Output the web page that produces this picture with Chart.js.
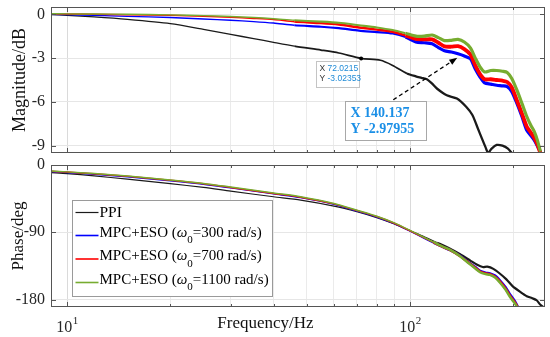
<!DOCTYPE html>
<html>
<head>
<meta charset="utf-8">
<script src="https://cdn.jsdelivr.net/npm/chart.js@4.4.1/dist/chart.umd.min.js"></script>
<style>
  html, body { margin: 0; padding: 0; background: #fff; }
  #wrap { position: relative; width: 550px; height: 337px; overflow: hidden; }
  #magCanvas { position: absolute; left: 0; top: 0; }
  #phaseCanvas { position: absolute; left: 0; top: 158px; }
</style>
</head>
<body>
<div id="wrap">
  <canvas id="magCanvas" width="550" height="160"></canvas>
  <canvas id="phaseCanvas" width="550" height="179"></canvas>
</div>
<script>
// x axis (Hz, log)
const xMin = 8.98, xMax = 247.5;
const xGridTicks = [10, 20, 30, 40, 50, 60, 70, 80, 90, 100, 200];
const xLabelTicks = [10, 100];
const magTicks = [-9, -6, -3, 0];
const phaseTicks = [-180, -90, 0];

// magnitude (dB), MPC+ESO curves share one frequency list
const magFreq = [9, 10, 12, 15, 20, 25, 30, 35, 40, 46, 55, 62, 71, 80, 89, 97, 104, 110, 116, 121,
  126, 132, 138, 144, 150, 155, 160, 165, 172, 179, 186, 192, 198, 205, 212, 219, 225, 230, 235, 240];
const magW300 = [0.0, -0.02, -0.07, -0.14, -0.22, -0.32, -0.41, -0.5, -0.6, -0.75, -0.85, -0.95, -1.12, -1.22, -1.32, -1.55, -1.9, -1.95, -2.02, -2.28,
  -2.5, -2.58, -2.7, -2.85, -3.05, -3.75, -4.3, -4.7, -4.78, -4.86, -4.9, -4.95, -5.3, -6.1, -7.0, -7.95, -8.3, -8.6, -9.0, -9.45];
const magW700 = [0.03, 0.02, 0.0, -0.03, -0.07, -0.13, -0.2, -0.28, -0.36, -0.5, -0.6, -0.7, -0.9, -1.05, -1.2, -1.45, -1.68, -1.72, -1.72, -1.95,
  -2.2, -2.22, -2.18, -2.38, -2.75, -3.5, -4.1, -4.45, -4.45, -4.5, -4.55, -4.64, -5.0, -5.9, -6.8, -7.7, -8.1, -8.45, -8.9, -9.5];
const magW1100 = [0.04, 0.03, 0.02, 0.0, -0.04, -0.09, -0.15, -0.22, -0.3, -0.41, -0.5, -0.58, -0.75, -0.9, -1.08, -1.3, -1.5, -1.5, -1.42, -1.6,
  -1.8, -1.78, -1.72, -1.9, -2.3, -3.0, -3.6, -3.95, -3.85, -3.85, -3.9, -3.98, -4.4, -5.2, -6.1, -7.0, -7.6, -8.0, -8.6, -9.4];
const magPPIFreq = [9, 10, 12, 15, 20, 25, 30, 35, 40, 46, 55, 62, 72, 82, 89, 98, 104, 108, 112, 116,
  120, 128, 137, 146, 152, 157, 162, 166, 169, 173, 179, 186, 193, 198];
const magPPI = [-0.02, -0.07, -0.18, -0.35, -0.64, -1.03, -1.38, -1.66, -1.92, -2.18, -2.45, -2.65, -3.02, -3.15, -3.5, -4.05, -4.25, -4.35, -4.45, -4.75,
  -5.1, -5.55, -5.77, -6.35, -6.9, -7.7, -8.5, -9.1, -9.5, -9.2, -8.95, -9.0, -9.2, -9.5];

// phase (deg)
const phaseFreq = [9, 10, 12, 15, 20, 25, 30, 40, 48, 60, 70, 80, 90, 100, 110, 117, 125, 131, 140, 147,
  155, 160, 166, 171, 177, 183, 190, 196, 202, 206];
const phaseW300 = [-8.8, -10, -12.3, -15.8, -21, -25.6, -30.6, -38.6, -43.6, -52.5, -61.5, -69.5, -78.5, -88.5, -98, -104, -110, -114, -121.5, -129,
  -136.5, -141.5, -144, -145, -148, -154.5, -163.5, -173.5, -182, -189];
const phaseW700 = [-8.3, -9.5, -11.8, -15.2, -20.4, -25, -30, -38, -43, -52, -61, -69, -78, -88, -97.5, -103.5, -110, -114, -122, -129.5,
  -137.5, -142.5, -145, -146, -149.5, -156, -165.5, -175.5, -183.5, -190];
const phaseW1100 = [-8, -9.2, -11.4, -14.8, -20, -24.6, -29.5, -37.5, -42.5, -51.5, -60.5, -68.5, -77.5, -87.5, -97, -103, -109.5, -113.5, -122, -130,
  -138.5, -143.5, -146, -147, -150.5, -157.5, -167, -177, -185, -191];
const phasePPIFreq = [9, 10, 12, 15, 20, 25, 30, 40, 48, 60, 70, 80, 90, 100, 110, 120, 130, 140, 150, 157,
  163, 168, 175, 183, 191, 199, 210, 219, 228, 234, 240, 246];
const phasePPI = [-10.2, -11.5, -14.5, -19, -25, -30, -35, -42.5, -47, -55, -62.5, -70.5, -79, -88, -96, -104, -111.5, -119.5, -128, -133.5,
  -136.5, -136, -139, -145.5, -153, -162, -170, -175.5, -178.5, -181, -187, -191];

// legend + data tips
const seriesNames = ['PPI', 'MPC+ESO', 'MPC+ESO', 'MPC+ESO'];
const seriesOmega = [null, '300', '700', '1100'];
const seriesColors = ['#1a1a1a', '#0000ff', '#ff0000', '#77ac30'];
const smallTipX = [72.0215], smallTipY = [-3.02353];
const bigTipX = [140.137], bigTipY = [-2.97955];

const serif = '"Liberation Serif", "Times New Roman", serif';
const toXY = (xs, ys) => xs.map((x, i) => ({ x: x, y: ys[i] }));

// noisy bands get thicker at high frequency
const magWidth = (base, extra) => ctx => {
  const f = ctx.p1.parsed.x;
  return f > 100 ? base + extra : f > 50 ? base + extra * 0.4 : base;
};
const phaseWidth = base => ctx => (ctx.p1.parsed.x > 120 ? base + 1 : base);

function xScale(h) {
  return {
    type: 'logarithmic',
    min: xMin, max: xMax,
    afterBuildTicks: s => { s.ticks = xGridTicks.map(v => ({ value: v })); },
    afterFit: s => { s.height = h; s.paddingLeft = 0; s.paddingRight = 0; },
    ticks: { display: false, autoSkip: false },
    grid: {
      drawTicks: false,
      color: c => (c.tick && (c.tick.value === 10 || c.tick.value === 100)) ? '#dadada' : '#ebebeb'
    },
    border: { display: false }
  };
}

function yScale(min, max, ticks, title, titleSize, titlePad) {
  return {
    min: min, max: max,
    afterBuildTicks: s => { s.ticks = ticks.map(v => ({ value: v })); },
    afterFit: s => { s.width = 51; s.paddingTop = 0; s.paddingBottom = 0; },
    ticks: { padding: 6, color: '#262626', font: { family: serif, size: 16 }, callback: v => String(v) },
    grid: { drawTicks: false, color: '#e6e6e6' },
    border: { display: false },
    title: { display: true, text: title, color: '#111', font: { family: serif, size: titleSize, lineHeight: 1 }, padding: { top: titlePad, bottom: 0 } }
  };
}

// box, inner tick marks
const framePlugin = {
  id: 'frame',
  afterDatasetsDraw(chart) {
    const { ctx, chartArea: a, scales } = chart;
    ctx.save();
    ctx.strokeStyle = '#555';
    ctx.lineWidth = 1;
    ctx.beginPath();
    scales.x.ticks.forEach(t => {
      const px = Math.round(scales.x.getPixelForValue(t.value)) + 0.5;
      const len = (t.value === 10 || t.value === 100) ? 5 : 3;
      ctx.moveTo(px, a.top); ctx.lineTo(px, a.top + len);
      ctx.moveTo(px, a.bottom); ctx.lineTo(px, a.bottom - len);
    });
    scales.y.ticks.forEach(t => {
      const py = Math.round(scales.y.getPixelForValue(t.value)) + 0.5;
      ctx.moveTo(a.left, py); ctx.lineTo(a.left + 5, py);
      ctx.moveTo(a.right, py); ctx.lineTo(a.right - 5, py);
    });
    ctx.stroke();
    ctx.strokeRect(Math.round(a.left) + 0.5, Math.round(a.top) + 0.5, Math.round(a.width) - 1, Math.round(a.height) - 1);
    ctx.restore();
  }
};

// data tips on the magnitude plot
const tipPlugin = {
  id: 'tips',
  afterDraw(chart) {
    const { ctx, scales: { x, y } } = chart;
    ctx.save();
    // small tip
    const px = x.getPixelForValue(smallTipX[0]), py = y.getPixelForValue(smallTipY[0]);
    ctx.fillStyle = '#000';
    ctx.beginPath(); ctx.arc(px, py, 2, 0, Math.PI * 2); ctx.fill();
    const bx = Math.round(px - 45) + 0.5, by = Math.round(py + 3) + 0.5;
    ctx.fillStyle = '#fff'; ctx.fillRect(bx, by, 43, 26);
    ctx.strokeStyle = '#c4c4c4'; ctx.lineWidth = 1; ctx.strokeRect(bx, by, 43, 26);
    ctx.font = '8.5px "Liberation Sans", Arial, sans-serif';
    ctx.textBaseline = 'middle'; ctx.textAlign = 'left';
    const rows = [['X ', String(smallTipX[0])], ['Y ', String(smallTipY[0])]];
    rows.forEach((r, i) => {
      const ty = by + 7 + i * 10.5;
      ctx.fillStyle = '#333'; ctx.fillText(r[0], bx + 3, ty);
      ctx.fillStyle = '#1f8ad6'; ctx.fillText(r[1], bx + 3 + ctx.measureText(r[0]).width, ty);
    });
    // big tip with dashed arrow
    const hx = x.getPixelForValue(bigTipX[0]) - 3, hy = y.getPixelForValue(bigTipY[0]);
    const tx = hx - 64, ty0 = hy + 42;
    ctx.strokeStyle = '#000'; ctx.lineWidth = 1.3; ctx.setLineDash([4, 3]);
    ctx.beginPath(); ctx.moveTo(tx, ty0); ctx.lineTo(hx, hy); ctx.stroke();
    ctx.setLineDash([]);
    const ang = Math.atan2(hy - ty0, hx - tx);
    ctx.fillStyle = '#000';
    ctx.beginPath();
    ctx.moveTo(hx, hy);
    ctx.lineTo(hx - 8 * Math.cos(ang) + 3 * Math.sin(ang), hy - 8 * Math.sin(ang) - 3 * Math.cos(ang));
    ctx.lineTo(hx - 8 * Math.cos(ang) - 3 * Math.sin(ang), hy - 8 * Math.sin(ang) + 3 * Math.cos(ang));
    ctx.closePath(); ctx.fill();
    const Bx = Math.round(hx - 112) + 0.5, By = Math.round(hy + 43) + 0.5;
    ctx.fillStyle = '#fff'; ctx.fillRect(Bx, By, 81, 39);
    ctx.strokeStyle = '#a8a8a8'; ctx.lineWidth = 1; ctx.strokeRect(Bx, By, 81, 39);
    ctx.fillStyle = '#1b8fe6';
    ctx.font = 'bold 14px ' + serif;
    ctx.fillText('X ' + bigTipX[0], Bx + 5, By + 12);
    ctx.fillText('Y ' + bigTipY[0], Bx + 5, By + 28);
    ctx.restore();
  }
};

// x labels, x title and legend on the phase plot
const phaseDecor = {
  id: 'phaseDecor',
  afterDraw(chart) {
    const { ctx, chartArea: a, scales: { x } } = chart;
    ctx.save();
    ctx.fillStyle = '#262626';
    ctx.textBaseline = 'alphabetic';
    ctx.textAlign = 'left';
    xLabelTicks.forEach(v => {
      const px = x.getPixelForValue(v);
      const exp = String(Math.round(Math.log10(v)));
      ctx.font = '16px ' + serif;
      const w1 = ctx.measureText('10').width;
      ctx.font = '11px ' + serif;
      const w2 = ctx.measureText(exp).width;
      const x0 = px - (w1 + w2) / 2;
      ctx.font = '16px ' + serif;
      ctx.fillText('10', x0, a.bottom + 25);
      ctx.font = '11px ' + serif;
      ctx.fillText(exp, x0 + w1 + 0.5, a.bottom + 16.5);
    });
    ctx.fillStyle = '#111';
    ctx.font = '17px ' + serif;
    ctx.textAlign = 'center';
    ctx.fillText('Frequency/Hz', a.left + 214.5, a.bottom + 21);

    // legend
    const lx = Math.round(a.left + 21) + 0.5, ly = Math.round(a.top + 35) + 0.5;
    const lw = 200, lh = 96;
    ctx.fillStyle = '#fff'; ctx.fillRect(lx, ly, lw, lh);
    ctx.strokeStyle = '#9a9a9a'; ctx.lineWidth = 1; ctx.strokeRect(lx, ly, lw, lh);
    const rowY = [12, 35, 58.5, 82];
    const fs = 15;
    ctx.textAlign = 'left';
    seriesNames.forEach((name, i) => {
      const yy = ly + rowY[i];
      ctx.strokeStyle = seriesColors[i];
      ctx.lineWidth = i === 0 ? 1.2 : 1.6;
      ctx.beginPath(); ctx.moveTo(lx + 3, yy); ctx.lineTo(lx + 26, yy); ctx.stroke();
      ctx.fillStyle = '#000';
      ctx.textBaseline = 'middle';
      let cx = lx + 27;
      if (!seriesOmega[i]) {
        ctx.font = (fs + 0.5) + 'px ' + serif;
        ctx.fillText(name, cx, yy);
        return;
      }
      const ty = yy - 2.5;
      ctx.font = fs + 'px ' + serif;
      const head = name + ' (';
      ctx.fillText(head, cx, ty); cx += ctx.measureText(head).width;
      ctx.font = 'italic ' + fs + 'px ' + serif;
      ctx.fillText('\u03c9', cx, ty); cx += ctx.measureText('\u03c9').width;
      ctx.font = '11px ' + serif;
      ctx.fillText('0', cx, yy + 5); cx += ctx.measureText('0').width;
      ctx.font = fs + 'px ' + serif;
      ctx.fillText('=' + seriesOmega[i] + ' rad/s)', cx, ty);
    });
    ctx.restore();
  }
};

function lineSet(label, data, color, order, width) {
  return {
    label: label, data: data, borderColor: color, backgroundColor: color,
    borderWidth: 1.4, pointRadius: 0, tension: 0.25, clip: 0, order: order,
    segment: { borderWidth: width }
  };
}

const baseOptions = {
  responsive: false,
  animation: false,
  devicePixelRatio: 1,
  plugins: { legend: { display: false }, tooltip: { enabled: false }, title: { display: false } }
};

new Chart(document.getElementById('magCanvas'), {
  type: 'line',
  data: {
    datasets: [
      lineSet('PPI', toXY(magPPIFreq, magPPI), seriesColors[0], 3, magWidth(1.3, 1.0)),
      lineSet('300', toXY(magFreq, magW300), seriesColors[1], 2, magWidth(1.4, 1.8)),
      lineSet('700', toXY(magFreq, magW700), seriesColors[2], 1, magWidth(1.6, 2.2)),
      lineSet('1100', toXY(magFreq, magW1100), seriesColors[3], 0, magWidth(1.4, 1.8))
    ]
  },
  options: Object.assign({}, baseOptions, {
    layout: { padding: { top: 7, right: 5, bottom: 7, left: 0 } },
    scales: {
      x: xScale(0),
      y: yScale(-9.5, 0.5, magTicks, 'Magnitude/dB', 18, 11)
    }
  }),
  plugins: [framePlugin, tipPlugin]
});

new Chart(document.getElementById('phaseCanvas'), {
  type: 'line',
  data: {
    datasets: [
      lineSet('PPI', toXY(phasePPIFreq, phasePPI), seriesColors[0], 3, phaseWidth(1.2)),
      lineSet('300', toXY(phaseFreq, phaseW300), seriesColors[1], 2, phaseWidth(1.5)),
      lineSet('700', toXY(phaseFreq, phaseW700), seriesColors[2], 1, phaseWidth(1.5)),
      lineSet('1100', toXY(phaseFreq, phaseW1100), seriesColors[3], 0, phaseWidth(1.5))
    ]
  },
  options: Object.assign({}, baseOptions, {
    layout: { padding: { top: 7, right: 5, bottom: 0, left: 0 } },
    scales: {
      x: xScale(30),
      y: yScale(-190, 0, phaseTicks, 'Phase/deg', 17, 10.5)
    }
  }),
  plugins: [framePlugin, phaseDecor]
});
</script>
</body>
</html>
